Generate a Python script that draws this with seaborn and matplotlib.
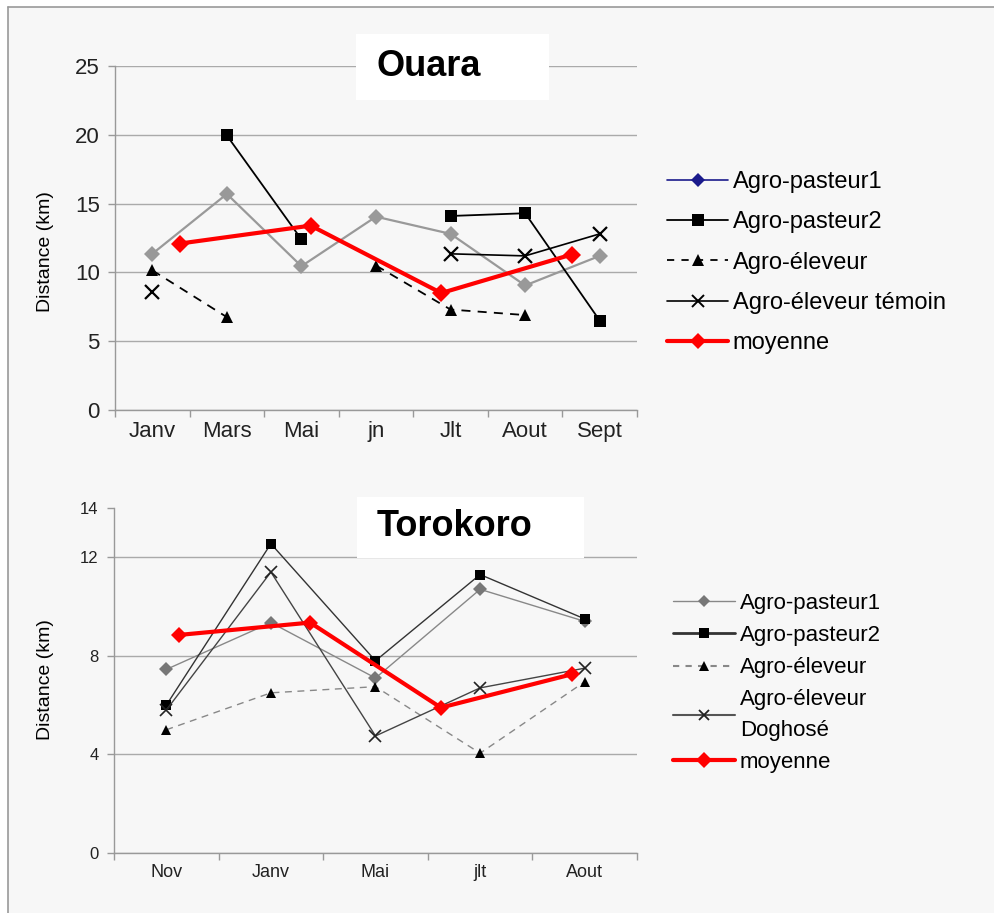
import numpy as np
import pandas as pd
import matplotlib
matplotlib.use("Agg")
import matplotlib.pyplot as plt
from matplotlib.lines import Line2D
from matplotlib.patches import Rectangle
import seaborn as sns

# Ouara (haut)
mois_ouara = ["Janv", "Mars", "Mai", "jn", "Jlt", "Aout", "Sept"]
ouara_pasteur1 = [11.35, 15.7, 10.45, 14.05, 12.8, 9.05, 11.2]
ouara_pasteur2 = [np.nan, 19.95, 12.4, np.nan, 14.1, 14.3, 6.5]
ouara_eleveur = [10.15, 6.75, np.nan, 10.5, 7.3, 6.9, np.nan]
ouara_temoin = [8.6, np.nan, np.nan, np.nan, 11.35, 11.2, 12.8]
ouara_moyenne = [12.1, 13.4, 8.5, 11.3]

# Torokoro (bas)
mois_toro = ["Nov", "Janv", "Mai", "jlt", "Aout"]
toro_pasteur1 = [7.45, 9.35, 7.1, 10.7, 9.4]
toro_pasteur2 = [6.0, 12.55, 7.8, 11.3, 9.5]
toro_eleveur = [5.0, 6.5, 6.75, 4.05, 6.95]
toro_doghose = [5.8, 11.4, 4.75, 6.7, 7.5]
toro_moyenne = [8.85, 9.35, 5.9, 7.25]

sns.set_theme(style="white")
plt.rcParams["font.family"] = ["Liberation Sans", "DejaVu Sans"]
plt.rcParams["text.color"] = "black"

W, H = 994, 913
fig = plt.figure(figsize=(W / 100, H / 100), dpi=100, facecolor="white")

# fond gris clair avec bord gauche/haut
fig.patches.append(Rectangle((8 / W, 0), 1, 1 - 7 / H, transform=fig.transFigure,
                             facecolor="#f7f7f7", edgecolor="none", zorder=-5))
fig.lines.append(Line2D([8 / W, 8 / W], [0, 1 - 7 / H], transform=fig.transFigure, color="#999999", lw=1.2,
                        zorder=-4))
fig.lines.append(Line2D([8 / W, 1], [1 - 7 / H, 1 - 7 / H], transform=fig.transFigure, color="#999999", lw=1.2,
                        zorder=-4))


def serie(ax, valeurs, **kw):
    # découpe en segments pour garder les trous (NaN)
    df = pd.DataFrame({"x": range(len(valeurs)), "y": valeurs})
    df["seg"] = df["y"].isna().cumsum()
    df = df.dropna()
    sns.lineplot(data=df, x="x", y="y", units="seg", estimator=None, ax=ax,
                 markeredgewidth=kw.pop("mew", 0), **kw)


def axe(rect, mois, yticks, tick_fs, label_fs):
    ax = fig.add_axes(rect)
    ax.set_facecolor("none")
    n = len(mois)
    ax.set_xlim(-0.5, n - 0.5)
    ax.set_ylim(0, yticks[-1])
    ax.set_yticks(yticks)
    ax.set_xticks(range(n))
    ax.set_xticklabels(mois, fontsize=label_fs, color="#222222")
    ax.set_xticks(np.arange(-0.5, n, 1), minor=True)
    ax.tick_params(axis="x", which="major", length=0, pad=8)
    ax.tick_params(axis="x", which="minor", length=5, color="#999999", width=1, direction="out", bottom=True)
    ax.tick_params(axis="y", length=5, color="#999999", width=1, direction="out", labelsize=tick_fs,
                   labelcolor="#222222", left=True, pad=6)
    ax.grid(axis="y", color="#aaaaaa", lw=1)
    ax.set_axisbelow(True)
    for s in ["top", "right"]:
        ax.spines[s].set_visible(False)
    for s in ["left", "bottom"]:
        ax.spines[s].set_color("#999999")
        ax.spines[s].set_linewidth(1)
    return ax


def moyenne(ax, valeurs, size):
    ax2 = ax.twiny()
    ax2.set_xlim(-0.5, len(valeurs) - 0.5)
    ax2.set_facecolor("none")
    sns.lineplot(x=list(range(len(valeurs))), y=valeurs, ax=ax2, color="red", lw=3,
                 marker="D", markersize=size, markeredgewidth=0)
    ax2.set_xticks([])
    ax2.set_xlabel("")
    for s in ax2.spines.values():
        s.set_visible(False)
    return ax2


# ---------- Ouara ----------
ax1 = axe([115 / W, 1 - 410 / H, 522 / W, 344 / H], mois_ouara, [0, 5, 10, 15, 20, 25], 16, 16)
serie(ax1, ouara_pasteur1, color="#999999", lw=1.6, marker="D", markersize=8)
serie(ax1, ouara_pasteur2, color="black", lw=1.3, marker="s", markersize=9)
serie(ax1, ouara_eleveur, color="black", lw=1.3, ls=(0, (5, 4)), marker="^", markersize=9)
serie(ax1, ouara_temoin, color="black", lw=1.2, marker="x", markersize=10, mew=1.6, markeredgecolor="black")
ax1.set_xlabel("")
ax1.set_ylabel("")
moyenne(ax1, ouara_moyenne, 9)

fig.text(45 / W, 1 - 252 / H, "Distance (km)", rotation=90, ha="center", va="center", fontsize=14)

leg1 = [
    Line2D([], [], color="#1a1a8c", lw=1.2, marker="D", markersize=7, markeredgewidth=0),
    Line2D([], [], color="black", lw=1.3, marker="s", markersize=8, markeredgewidth=0),
    Line2D([], [], color="black", lw=1.3, ls=(0, (4, 4)), marker="^", markersize=8, markeredgewidth=0),
    Line2D([], [], color="black", lw=1.2, marker="x", markersize=8, markeredgewidth=1.4),
    Line2D([], [], color="red", lw=3, marker="D", markersize=8, markeredgewidth=0),
]
noms1 = ["Agro-pasteur1", "Agro-pasteur2", "Agro-éleveur", "Agro-éleveur témoin", "moyenne"]
fig.legend(leg1, noms1, loc="upper left", bbox_to_anchor=(655 / W, 1 - 159 / H), frameon=False,
           fontsize=17, handlelength=2.6, handletextpad=0.2, labelspacing=0.78, borderpad=0)

# ---------- Torokoro ----------
ax3 = axe([114 / W, 1 - 853 / H, 523 / W, 345 / H], mois_toro, [0, 4, 8, 12, 14], 12, 13)
ax3.yaxis.get_gridlines()[-1].set_visible(False)
serie(ax3, toro_pasteur1, color="#888888", lw=1.0, marker="D", markersize=7, markerfacecolor="#777777")
serie(ax3, toro_pasteur2, color="#333333", lw=1.0, marker="s", markersize=7, markerfacecolor="black")
serie(ax3, toro_eleveur, color="#888888", lw=1.0, ls=(0, (5, 4)), marker="^", markersize=7,
      markerfacecolor="black")
serie(ax3, toro_doghose, color="#444444", lw=1.0, marker="x", markersize=8, mew=1.2,
      markeredgecolor="#222222")
ax3.set_xlabel("")
ax3.set_ylabel("")
moyenne(ax3, toro_moyenne, 8)

fig.text(45 / W, 1 - 680 / H, "Distance (km)", rotation=90, ha="center", va="center", fontsize=14)

leg2 = [
    Line2D([], [], color="#888888", lw=1.0, marker="D", markersize=6, markerfacecolor="#777777", markeredgewidth=0),
    Line2D([], [], color="#333333", lw=2.0, marker="s", markersize=7, markerfacecolor="black", markeredgewidth=0),
    Line2D([], [], color="#888888", lw=1.5, ls=(0, (3, 3)), marker="^", markersize=7, markerfacecolor="black",
           markeredgewidth=0),
    Line2D([], [], color="#555555", lw=1.5, marker="x", markersize=7, markeredgecolor="#222222", markeredgewidth=1.3),
    Line2D([], [], color="red", lw=3, marker="D", markersize=8, markeredgewidth=0),
]
noms2 = ["Agro-pasteur1", "Agro-pasteur2", "Agro-éleveur", "Agro-éleveur\nDoghosé", "moyenne"]
lg2 = fig.legend(leg2, noms2, loc="upper left", bbox_to_anchor=(662 / W, 1 - 582 / H), frameon=False,
                 fontsize=16, handlelength=2.8, handletextpad=0.2, labelspacing=0.5, borderpad=0)
lg2.get_texts()[3].set_linespacing(1.6)

# ---------- titres en cadre blanc ----------
for (x0, y0, x1, y1, txt, tx, ty) in [(356, 34, 549, 100, "Ouara", 376, 66),
                                      (357, 497, 584, 558, "Torokoro", 377, 526)]:
    fig.patches.append(Rectangle((x0 / W, 1 - y1 / H), (x1 - x0) / W, (y1 - y0) / H,
                                 transform=fig.transFigure, facecolor="white", edgecolor="none", zorder=5))
    fig.text(tx / W, 1 - ty / H, txt, fontsize=26, fontweight="bold", ha="left", va="center", zorder=6)

fig.savefig("out.png", dpi=100, facecolor="white")
